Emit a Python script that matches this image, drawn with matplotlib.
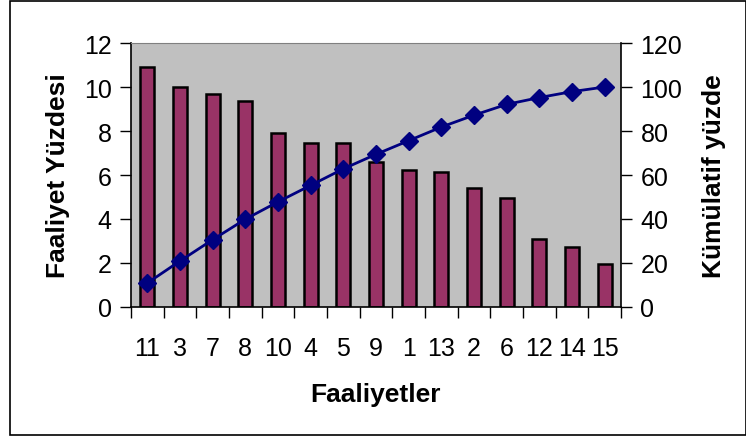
import matplotlib.pyplot as plt
from matplotlib.patches import Rectangle
import numpy as np

plt.rcParams['font.family'] = ['Liberation Sans', 'DejaVu Sans']

# Data
faaliyetler = ['11', '3', '7', '8', '10', '4', '5', '9', '1', '13', '2', '6', '12', '14', '15']
yuzde = [10.9, 10.0, 9.67, 9.36, 7.9, 7.47, 7.47, 6.6, 6.24, 6.15, 5.39, 4.94, 3.07, 2.74, 1.94]
kumulatif = [10.9, 20.9, 30.6, 39.9, 47.8, 55.3, 62.8, 69.4, 75.6, 81.8, 87.2, 92.1, 95.2, 97.9, 100.0]

W, H = 746, 439
fig = plt.figure(figsize=(W / 100, H / 100), dpi=100)
fig.patch.set_facecolor('white')

# outer chart border
fig.add_artist(Rectangle((10 / W, 1 - 436 / H), (746 - 10) / W, (436 - 2) / H,
                         transform=fig.transFigure, fill=False,
                         edgecolor='black', linewidth=1.2))

ax = fig.add_axes([131 / W, 1 - 308 / H, (621 - 131) / W, (308 - 44) / H])
ax.set_facecolor('#C0C0C0')

x = np.arange(len(faaliyetler))
ax.bar(x, yuzde, width=0.43, color='#993366', edgecolor='black', linewidth=1.8, zorder=2)
ax.set_xlim(-0.5, len(faaliyetler) - 0.5)
ax.set_ylim(0, 12)
ax.set_yticks(np.arange(0, 13, 2))
ax.set_xticks(x)
ax.set_xticklabels(faaliyetler)
ax.set_xticks(np.arange(-0.5, len(faaliyetler), 1), minor=True)
ax.tick_params(axis='x', which='major', length=0, pad=21, labelsize=18)
ax.tick_params(axis='x', which='minor', length=8, width=1, direction='out')
ax.tick_params(axis='y', length=8, width=1, direction='out', pad=6, labelsize=18)

ax.spines['top'].set_color('#808080')
ax.spines['right'].set_visible(False)
for s in ['left', 'bottom']:
    ax.spines[s].set_color('black')
    ax.spines[s].set_linewidth(1.2)

ax.set_xlabel('Faaliyetler', fontsize=19, fontweight='bold', labelpad=16)
ax.set_ylabel('Faaliyet Yüzdesi', fontsize=19, fontweight='bold', labelpad=10)

ax2 = ax.twinx()
ax2.plot(x, kumulatif, color='#000080', linewidth=2, marker='D', markersize=9,
         markerfacecolor='#000080', markeredgecolor='#000080', zorder=3)
ax2.set_ylim(0, 120)
ax2.set_yticks(np.arange(0, 121, 20))
ax2.tick_params(axis='y', length=8, width=1, direction='out', pad=6, labelsize=18)
ax2.spines['right'].set_color('black')
ax2.spines['right'].set_linewidth(1.2)
for s in ['top', 'left', 'bottom']:
    ax2.spines[s].set_visible(False)
ax2.set_ylabel('Kümülatif yüzde', fontsize=19, fontweight='bold', labelpad=14)

fig.savefig('out.png', dpi=100)
